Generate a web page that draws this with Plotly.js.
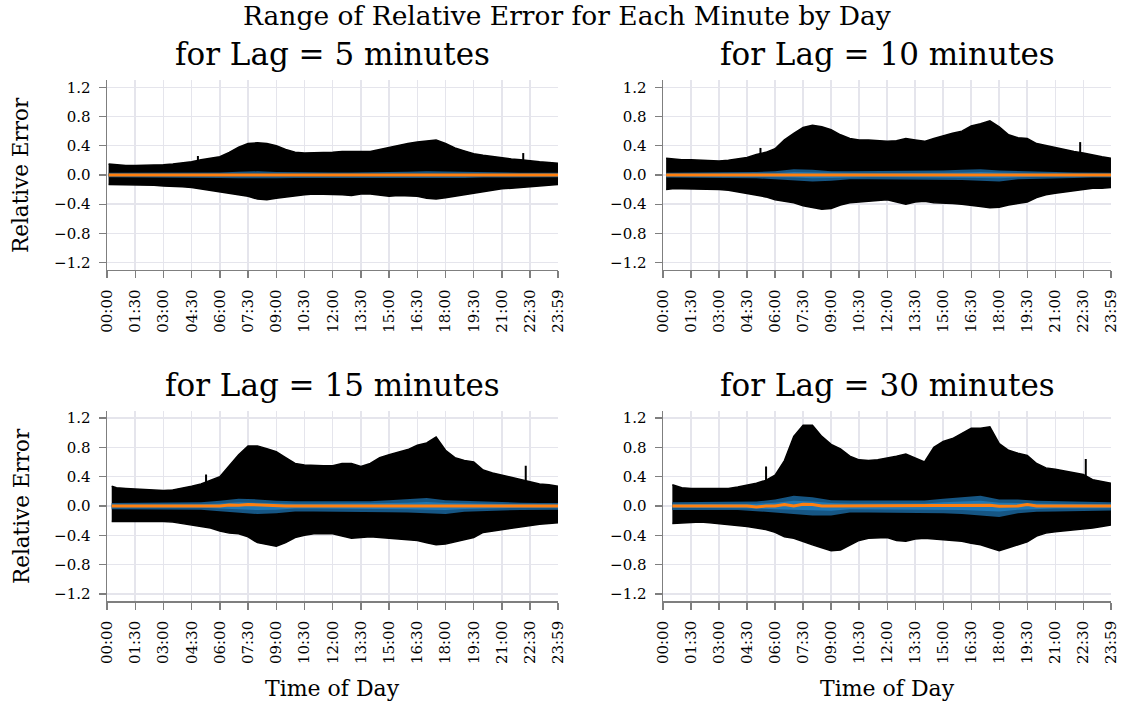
<!DOCTYPE html>
<html>
<head>
<meta charset="utf-8">
<script src="https://cdn.plot.ly/plotly-3.0.1.min.js"></script>
<style>
  html, body { margin: 0; padding: 0; background: #ffffff; }
  #chart { width: 1123px; height: 704px; }
</style>
</head>
<body>
<div id="chart"></div>
<script>
// Minute of day for the envelope samples (every 30 minutes, last minute 23:59)
const minutes = [0,30,60,90,120,150,180,210,240,270,300,330,360,390,420,450,480,510,540,570,
  600,630,660,690,720,750,780,810,840,870,900,930,960,990,1020,1050,1080,1110,1140,1170,
  1200,1230,1260,1290,1320,1350,1380,1410,1439];
// Minute of day for the percentile bands (hourly)
const hours = [0,60,120,180,240,300,360,420,480,540,600,660,720,780,840,900,960,1020,1080,1140,
  1200,1260,1320,1380,1439];

const tickVals = [0,90,180,270,360,450,540,630,720,810,900,990,1080,1170,1260,1350,1439];
const tickText = ["00:00","01:30","03:00","04:30","06:00","07:30","09:00","10:30","12:00",
  "13:30","15:00","16:30","18:00","19:30","21:00","22:30","23:59"];
const yTickVals = [-1.2,-0.8,-0.4,0,0.4,0.8,1.2];
const yTickText = ["\u22121.2","\u22120.8","\u22120.4","0.0","0.4","0.8","1.2"];

const lags = [5, 10, 15, 30];
const lagTitles = ["for Lag = 5 minutes","for Lag = 10 minutes","for Lag = 15 minutes","for Lag = 30 minutes"];

// Daily maximum / minimum relative error per minute
const maxLag5 = [0.15,0.14,0.13,0.13,0.13,0.14,0.14,0.15,0.16,0.18,
  0.21,0.23,0.25,0.31,0.38,0.43,0.44,0.43,0.40,0.35,
  0.31,0.30,0.30,0.31,0.31,0.32,0.32,0.31,0.32,0.35,
  0.38,0.40,0.43,0.45,0.46,0.48,0.43,0.37,0.33,0.29,
  0.27,0.25,0.24,0.22,0.21,0.19,0.18,0.17,0.16];
const minLag5 = [-0.13,-0.13,-0.13,-0.14,-0.14,-0.14,-0.15,-0.15,-0.16,-0.17,
  -0.19,-0.22,-0.24,-0.25,-0.27,-0.29,-0.33,-0.34,-0.32,-0.30,
  -0.28,-0.27,-0.26,-0.26,-0.27,-0.27,-0.28,-0.26,-0.26,-0.27,
  -0.29,-0.28,-0.28,-0.29,-0.32,-0.33,-0.31,-0.29,-0.26,-0.24,
  -0.22,-0.20,-0.19,-0.18,-0.17,-0.15,-0.14,-0.13,-0.13];

const maxLag10 = [0.23,0.22,0.21,0.21,0.20,0.19,0.19,0.20,0.22,0.24,
  0.28,0.31,0.36,0.48,0.57,0.65,0.68,0.66,0.62,0.55,
  0.50,0.48,0.48,0.47,0.46,0.47,0.50,0.48,0.46,0.50,
  0.54,0.57,0.60,0.67,0.70,0.74,0.66,0.55,0.51,0.50,
  0.43,0.40,0.38,0.35,0.32,0.30,0.27,0.25,0.23];
const minLag10 = [-0.20,-0.19,-0.19,-0.19,-0.19,-0.20,-0.20,-0.21,-0.23,-0.25,
  -0.27,-0.30,-0.34,-0.36,-0.38,-0.42,-0.45,-0.47,-0.46,-0.41,
  -0.38,-0.37,-0.36,-0.35,-0.34,-0.37,-0.40,-0.37,-0.36,-0.38,
  -0.38,-0.39,-0.40,-0.41,-0.43,-0.45,-0.44,-0.41,-0.39,-0.37,
  -0.31,-0.27,-0.25,-0.23,-0.21,-0.20,-0.18,-0.18,-0.17];

const maxLag15 = [0.27,0.25,0.24,0.23,0.22,0.21,0.21,0.22,0.24,0.27,
  0.30,0.35,0.40,0.55,0.70,0.82,0.82,0.78,0.74,0.66,
  0.58,0.56,0.55,0.55,0.55,0.58,0.58,0.54,0.58,0.66,
  0.70,0.74,0.77,0.83,0.86,0.94,0.76,0.66,0.62,0.60,
  0.49,0.45,0.42,0.40,0.37,0.33,0.30,0.29,0.27];
const minLag15 = [-0.21,-0.21,-0.20,-0.20,-0.20,-0.20,-0.21,-0.22,-0.24,-0.26,
  -0.27,-0.30,-0.34,-0.37,-0.38,-0.42,-0.50,-0.53,-0.55,-0.50,
  -0.43,-0.40,-0.38,-0.38,-0.38,-0.41,-0.44,-0.43,-0.42,-0.43,
  -0.44,-0.45,-0.46,-0.47,-0.50,-0.53,-0.52,-0.49,-0.46,-0.43,
  -0.36,-0.34,-0.32,-0.30,-0.28,-0.27,-0.25,-0.24,-0.23];

const maxLag30 = [0.29,0.29,0.25,0.24,0.24,0.23,0.23,0.24,0.26,0.28,
  0.31,0.35,0.42,0.62,0.95,1.10,1.10,0.95,0.84,0.78,
  0.68,0.63,0.62,0.63,0.65,0.68,0.71,0.66,0.60,0.80,
  0.88,0.92,0.99,1.06,1.06,1.08,0.85,0.76,0.72,0.69,
  0.58,0.52,0.50,0.48,0.46,0.43,0.36,0.33,0.31];
const minLag30 = [-0.24,-0.24,-0.23,-0.22,-0.22,-0.23,-0.24,-0.25,-0.26,-0.28,
  -0.30,-0.32,-0.36,-0.42,-0.44,-0.49,-0.53,-0.57,-0.61,-0.60,
  -0.53,-0.47,-0.44,-0.43,-0.43,-0.47,-0.48,-0.45,-0.44,-0.45,
  -0.46,-0.47,-0.48,-0.51,-0.53,-0.57,-0.61,-0.57,-0.53,-0.49,
  -0.41,-0.37,-0.35,-0.34,-0.33,-0.31,-0.30,-0.28,-0.26];

// Isolated single-minute spikes in the daily maximum
const spikeMinutes = [[290,1328],[313,1340],[316,1336],[331,1358]];
const spikeTops = [[0.26,0.30],[0.37,0.45],[0.43,0.55],[0.54,0.64]];

// Median relative error per minute
const medLag5 = [0,0,0,0,0,0,0,0,0,0, 0,0,0,0,0,0,0,0,0,0, 0,0,0,0,0,0,0,0,0,0,
  0,0,0,0,0,0,0,0,0,0, 0,0,0,0,0,0,0,0,0];
const medLag10 = [0,0,0,0,0,0,0,0,0,0, 0,0,0,0,0.01,0.01,0,0,0,0, 0,0,0,0,0,0,0,0,0,0,
  0,0,0,0,0,0.005,0,0,0,0, 0,0,0,0,0,0,0,0,0];
const medLag15 = [0,0,0,0,0,0,0,0,0,0, 0,0,0,0.015,0.01,0.02,0.015,0,0,0, 0,0,0,0,0,0,0,0,0,0,
  0,0,0,0,0.005,0.01,0,0,0,0, 0,0,0,0,0,0,0,0,0];
const medLag30 = [0,0,0,0,0,0,0,0,0,0, -0.015,0,0,0.02,0,0.025,0.02,0,0,0, 0,0,0,0,0,0,0,0,0,0,
  0,0,0,0,0,0.01,-0.005,0,0,0.02, 0,0,0,0,0,0,0,0,0];

// Outer (5th-95th) and inner (25th-75th) percentile bands
const p95Lag5 = [0.03,0.03,0.03,0.03,0.03,0.03,0.035,0.045,0.05,0.04,0.035,0.035,0.035,0.035,0.035,0.04,0.045,0.05,0.045,0.04,0.035,0.03,0.03,0.03,0.03];
const p05Lag5 = [-0.03,-0.03,-0.03,-0.03,-0.03,-0.035,-0.04,-0.045,-0.05,-0.045,-0.04,-0.04,-0.04,-0.04,-0.04,-0.04,-0.045,-0.05,-0.05,-0.04,-0.035,-0.035,-0.03,-0.03,-0.03];
const p75Lag5 = [0.015,0.015,0.015,0.015,0.015,0.015,0.02,0.025,0.025,0.02,0.02,0.02,0.02,0.02,0.02,0.02,0.025,0.025,0.02,0.02,0.015,0.015,0.015,0.015,0.015];
const p25Lag5 = [-0.015,-0.015,-0.015,-0.015,-0.015,-0.015,-0.02,-0.025,-0.025,-0.025,-0.02,-0.02,-0.02,-0.02,-0.02,-0.02,-0.025,-0.025,-0.025,-0.02,-0.02,-0.015,-0.015,-0.015,-0.015];

const p95Lag10 = [0.03,0.03,0.03,0.03,0.03,0.04,0.05,0.08,0.07,0.05,0.05,0.05,0.05,0.05,0.05,0.06,0.07,0.08,0.06,0.05,0.04,0.04,0.035,0.03,0.03];
const p05Lag10 = [-0.035,-0.035,-0.035,-0.035,-0.035,-0.045,-0.06,-0.07,-0.09,-0.08,-0.06,-0.06,-0.06,-0.06,-0.06,-0.065,-0.07,-0.08,-0.09,-0.06,-0.05,-0.045,-0.04,-0.035,-0.035];
const p75Lag10 = [0.015,0.015,0.015,0.015,0.015,0.02,0.025,0.04,0.035,0.025,0.025,0.025,0.025,0.025,0.025,0.03,0.035,0.04,0.03,0.025,0.02,0.02,0.02,0.015,0.015];
const p25Lag10 = [-0.02,-0.02,-0.02,-0.02,-0.02,-0.025,-0.03,-0.035,-0.045,-0.04,-0.03,-0.03,-0.03,-0.03,-0.03,-0.035,-0.035,-0.04,-0.045,-0.03,-0.025,-0.025,-0.02,-0.02,-0.02];

const p95Lag15 = [0.04,0.04,0.04,0.04,0.04,0.05,0.07,0.10,0.09,0.07,0.065,0.065,0.065,0.065,0.065,0.08,0.09,0.11,0.08,0.07,0.06,0.05,0.045,0.04,0.04];
const p05Lag15 = [-0.045,-0.045,-0.045,-0.045,-0.045,-0.05,-0.07,-0.09,-0.11,-0.10,-0.075,-0.075,-0.075,-0.075,-0.075,-0.085,-0.09,-0.10,-0.11,-0.08,-0.065,-0.06,-0.055,-0.05,-0.05];
const p75Lag15 = [0.02,0.02,0.02,0.02,0.02,0.025,0.035,0.05,0.045,0.035,0.03,0.03,0.03,0.03,0.03,0.04,0.045,0.055,0.04,0.035,0.03,0.025,0.02,0.02,0.02];
const p25Lag15 = [-0.02,-0.02,-0.02,-0.02,-0.02,-0.025,-0.035,-0.045,-0.055,-0.05,-0.035,-0.035,-0.035,-0.035,-0.035,-0.04,-0.045,-0.05,-0.055,-0.04,-0.03,-0.03,-0.025,-0.025,-0.025];

const p95Lag30 = [0.05,0.05,0.05,0.05,0.05,0.06,0.09,0.14,0.12,0.08,0.075,0.075,0.075,0.075,0.075,0.10,0.12,0.14,0.09,0.09,0.07,0.065,0.06,0.055,0.05];
const p05Lag30 = [-0.055,-0.055,-0.055,-0.055,-0.055,-0.07,-0.09,-0.11,-0.13,-0.13,-0.09,-0.09,-0.09,-0.09,-0.09,-0.10,-0.11,-0.13,-0.15,-0.10,-0.08,-0.075,-0.07,-0.065,-0.06];
const p75Lag30 = [0.025,0.025,0.025,0.025,0.025,0.03,0.045,0.07,0.06,0.04,0.035,0.035,0.035,0.035,0.035,0.05,0.06,0.07,0.045,0.045,0.035,0.03,0.03,0.025,0.025];
const p25Lag30 = [-0.025,-0.025,-0.025,-0.025,-0.025,-0.035,-0.045,-0.055,-0.065,-0.065,-0.045,-0.045,-0.045,-0.045,-0.045,-0.05,-0.055,-0.065,-0.075,-0.05,-0.04,-0.035,-0.035,-0.03,-0.03];

const series = [
  {max: maxLag5,  min: minLag5,  med: medLag5,  p95: p95Lag5,  p05: p05Lag5,  p75: p75Lag5,  p25: p25Lag5},
  {max: maxLag10, min: minLag10, med: medLag10, p95: p95Lag10, p05: p05Lag10, p75: p75Lag10, p25: p25Lag10},
  {max: maxLag15, min: minLag15, med: medLag15, p95: p95Lag15, p05: p05Lag15, p75: p75Lag15, p25: p25Lag15},
  {max: maxLag30, min: minLag30, med: medLag30, p95: p95Lag30, p05: p05Lag30, p75: p75Lag30, p25: p25Lag30}
];

const FONT = '"DejaVu Serif", "Liberation Serif", serif';
const GRID = '#e5e5ec';
const SPINE = '#7f7f7f';
const OUTER_BLUE = 'rgb(22,86,132)';
const INNER_BLUE = 'rgb(31,119,180)';
const ORANGE = '#ff7f0e';

// Panel placement in paper coordinates
const xDomains = [[0.0953, 0.4969], [0.5904, 0.9893], [0.0953, 0.4969], [0.5904, 0.9893]];
const yDomains = [[0.6165, 0.8864], [0.6165, 0.8864], [0.1459, 0.4166], [0.1459, 0.4166]];

const traces = [];
const layout = {
  width: 1123, height: 704,
  margin: {l: 0, r: 0, t: 0, b: 0},
  paper_bgcolor: '#ffffff', plot_bgcolor: '#ffffff',
  showlegend: false,
  font: {family: FONT, color: '#000000'},
  annotations: []
};

lags.forEach((lag, i) => {
  const s = series[i];
  const ax = i === 0 ? '' : String(i + 1);
  const xref = 'x' + ax, yref = 'y' + ax;
  const xs = minutes.map(m => Math.max(m, lag));
  const hs = hours.map(m => Math.max(m, lag));

  // black min/max envelope
  traces.push({x: xs, y: s.min, xaxis: xref, yaxis: yref, type: 'scatter', mode: 'lines',
    line: {color: '#000000', width: 1.5}, hoverinfo: 'skip'});
  traces.push({x: xs, y: s.max, xaxis: xref, yaxis: yref, type: 'scatter', mode: 'lines',
    fill: 'tonexty', fillcolor: '#000000', line: {color: '#000000', width: 1.5}, hoverinfo: 'skip'});
  // isolated spikes
  spikeMinutes[i].forEach((m, k) => {
    traces.push({x: [m, m], y: [0, spikeTops[i][k]], xaxis: xref, yaxis: yref, type: 'scatter',
      mode: 'lines', line: {color: '#000000', width: 2}, hoverinfo: 'skip'});
  });
  // outer percentile band
  traces.push({x: hs, y: s.p05, xaxis: xref, yaxis: yref, type: 'scatter', mode: 'lines',
    line: {width: 0, color: OUTER_BLUE}, hoverinfo: 'skip'});
  traces.push({x: hs, y: s.p95, xaxis: xref, yaxis: yref, type: 'scatter', mode: 'lines',
    fill: 'tonexty', fillcolor: OUTER_BLUE, line: {width: 0, color: OUTER_BLUE}, hoverinfo: 'skip'});
  // inner percentile band
  traces.push({x: hs, y: s.p25, xaxis: xref, yaxis: yref, type: 'scatter', mode: 'lines',
    line: {width: 0, color: INNER_BLUE}, hoverinfo: 'skip'});
  traces.push({x: hs, y: s.p75, xaxis: xref, yaxis: yref, type: 'scatter', mode: 'lines',
    fill: 'tonexty', fillcolor: INNER_BLUE, line: {width: 0, color: INNER_BLUE}, hoverinfo: 'skip'});
  // median
  traces.push({x: xs, y: s.med, xaxis: xref, yaxis: yref, type: 'scatter', mode: 'lines',
    line: {color: ORANGE, width: 3}, hoverinfo: 'skip'});

  layout['xaxis' + ax] = {
    domain: xDomains[i], anchor: yref, range: [0, 1439],
    tickmode: 'array', tickvals: tickVals, ticktext: tickText, tickangle: -90,
    tickfont: {family: FONT, size: 15, color: '#000000'},
    ticks: 'outside', ticklen: 7, tickwidth: 1.3, tickcolor: SPINE,
    ticklabelstandoff: 5,
    showline: true, linecolor: SPINE, linewidth: 1.5, mirror: false,
    showgrid: true, gridcolor: GRID, gridwidth: 1.5, zeroline: false, fixedrange: true
  };
  layout['yaxis' + ax] = {
    domain: yDomains[i], anchor: xref, range: [-1.3, 1.3],
    tickmode: 'array', tickvals: yTickVals, ticktext: yTickText,
    tickfont: {family: FONT, size: 15, color: '#000000'},
    ticks: 'outside', ticklen: 7, tickwidth: 1.3, tickcolor: SPINE,
    ticklabelstandoff: 5,
    showline: true, linecolor: SPINE, linewidth: 1.5, mirror: false,
    showgrid: true, gridcolor: GRID, gridwidth: 1.5, zeroline: false, fixedrange: true
  };

  // panel title
  const cx = (xDomains[i][0] + xDomains[i][1]) / 2;
  layout.annotations.push({
    text: lagTitles[i], xref: 'paper', yref: 'paper', x: cx, y: yDomains[i][1] + 26 / 704,
    xanchor: 'center', yanchor: 'middle', showarrow: false,
    font: {family: FONT, size: 31, color: '#000000'}
  });
  // y-axis title on the left column
  if (i % 2 === 0) {
    layout.annotations.push({
      text: 'Relative Error', xref: 'paper', yref: 'paper', x: 21 / 1123,
      y: (yDomains[i][0] + yDomains[i][1]) / 2, xanchor: 'center', yanchor: 'middle',
      textangle: -90, showarrow: false, font: {family: FONT, size: 21.5, color: '#000000'}
    });
  }
  // x-axis title on the bottom row
  if (i >= 2) {
    layout.annotations.push({
      text: 'Time of Day', xref: 'paper', yref: 'paper', x: cx, y: 16 / 704,
      xanchor: 'center', yanchor: 'middle', showarrow: false,
      font: {family: FONT, size: 22, color: '#000000'}
    });
  }
});

// figure title
layout.annotations.push({
  text: 'Range of Relative Error for Each Minute by Day', xref: 'paper', yref: 'paper',
  x: 567 / 1123, y: 1 - 16 / 704, xanchor: 'center', yanchor: 'middle', showarrow: false,
  font: {family: FONT, size: 26.5, color: '#000000'}
});

Plotly.newPlot('chart', traces, layout, {staticPlot: true, displayModeBar: false});
</script>
</body>
</html>
